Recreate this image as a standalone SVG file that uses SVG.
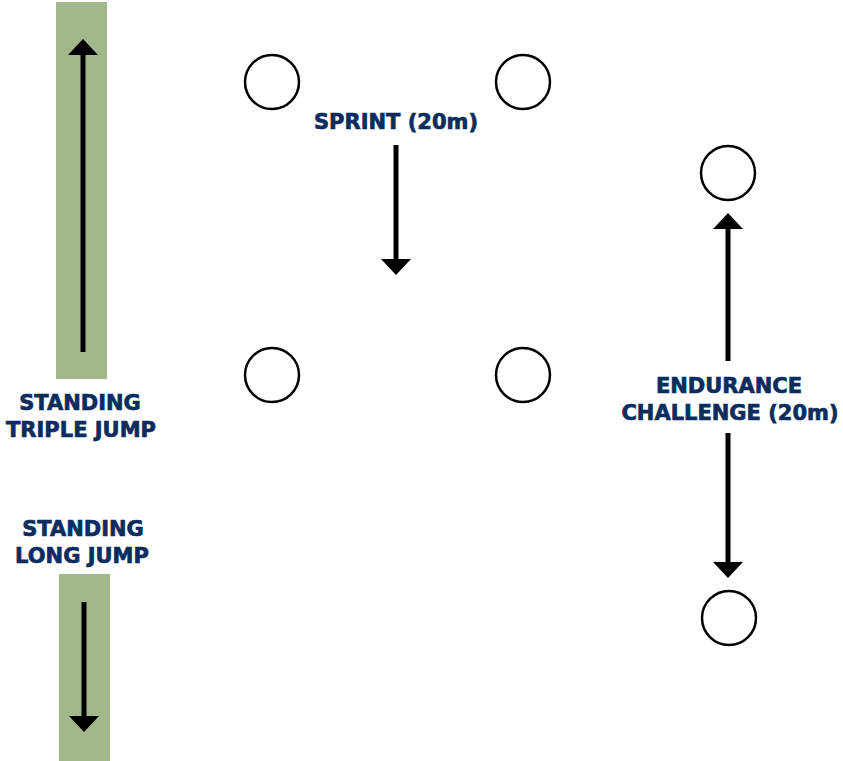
<svg xmlns="http://www.w3.org/2000/svg" width="843" height="761" viewBox="0 0 843 761">
  <style>
    .lane { fill: #a2b78a; }
    .cone { fill: #ffffff; stroke: #000000; stroke-width: 2.5; }
    .run { stroke: #000000; stroke-width: 5; fill: none; marker-end: url(#head); }
    .label { font-family: "DejaVu Sans", "Liberation Sans", sans-serif; font-weight: bold; font-size: 21px; fill: #0b2d5e; stroke: #0b2d5e; stroke-width: 0.7; text-anchor: middle; }
  </style>
  <defs>
    <marker id="head" markerUnits="userSpaceOnUse" markerWidth="17" markerHeight="31" refX="0" refY="15" orient="auto" viewBox="0 0 17 31">
      <path d="M0,0 L16,15 L0,30 Z" fill="#000000"/>
    </marker>
  </defs>

  <rect width="843" height="761" fill="#ffffff"/>

  <!-- Standing triple jump lane -->
  <g id="triple-jump">
    <rect class="lane" x="56" y="2" width="51" height="377"/>
    <text class="label" x="80" y="410">STANDING</text>
    <text class="label" x="81" y="437">TRIPLE JUMP</text>
  </g>

  <!-- Standing long jump lane -->
  <g id="long-jump">
    <rect class="lane" x="59" y="574" width="51" height="187"/>
    <text class="label" x="83" y="536">STANDING</text>
    <text class="label" x="82" y="563">LONG JUMP</text>
  </g>

  <!-- Sprint cones -->
  <g id="sprint">
    <circle class="cone" cx="272" cy="82" r="27"/>
    <circle class="cone" cx="523" cy="82" r="27"/>
    <circle class="cone" cx="272" cy="375" r="27"/>
    <circle class="cone" cx="523" cy="375" r="27"/>
    <text class="label" x="396" y="129">SPRINT (20m)</text>
  </g>

  <!-- Endurance challenge cones -->
  <g id="endurance">
    <circle class="cone" cx="728" cy="173" r="27"/>
    <circle class="cone" cx="729" cy="618" r="27"/>
    <text class="label" x="729" y="393">ENDURANCE</text>
    <text class="label" x="730" y="420">CHALLENGE (20m)</text>
  </g>

  <!-- Direction arrows -->
  <g id="connectors">
    <line class="run" x1="83" y1="352" x2="83" y2="55"/>
    <line class="run" x1="84" y1="602" x2="84" y2="716"/>
    <line class="run" x1="396" y1="145" x2="396" y2="259"/>
    <line class="run" x1="728" y1="361" x2="728" y2="229"/>
    <line class="run" x1="728" y1="433" x2="728" y2="562"/>
  </g>
</svg>
